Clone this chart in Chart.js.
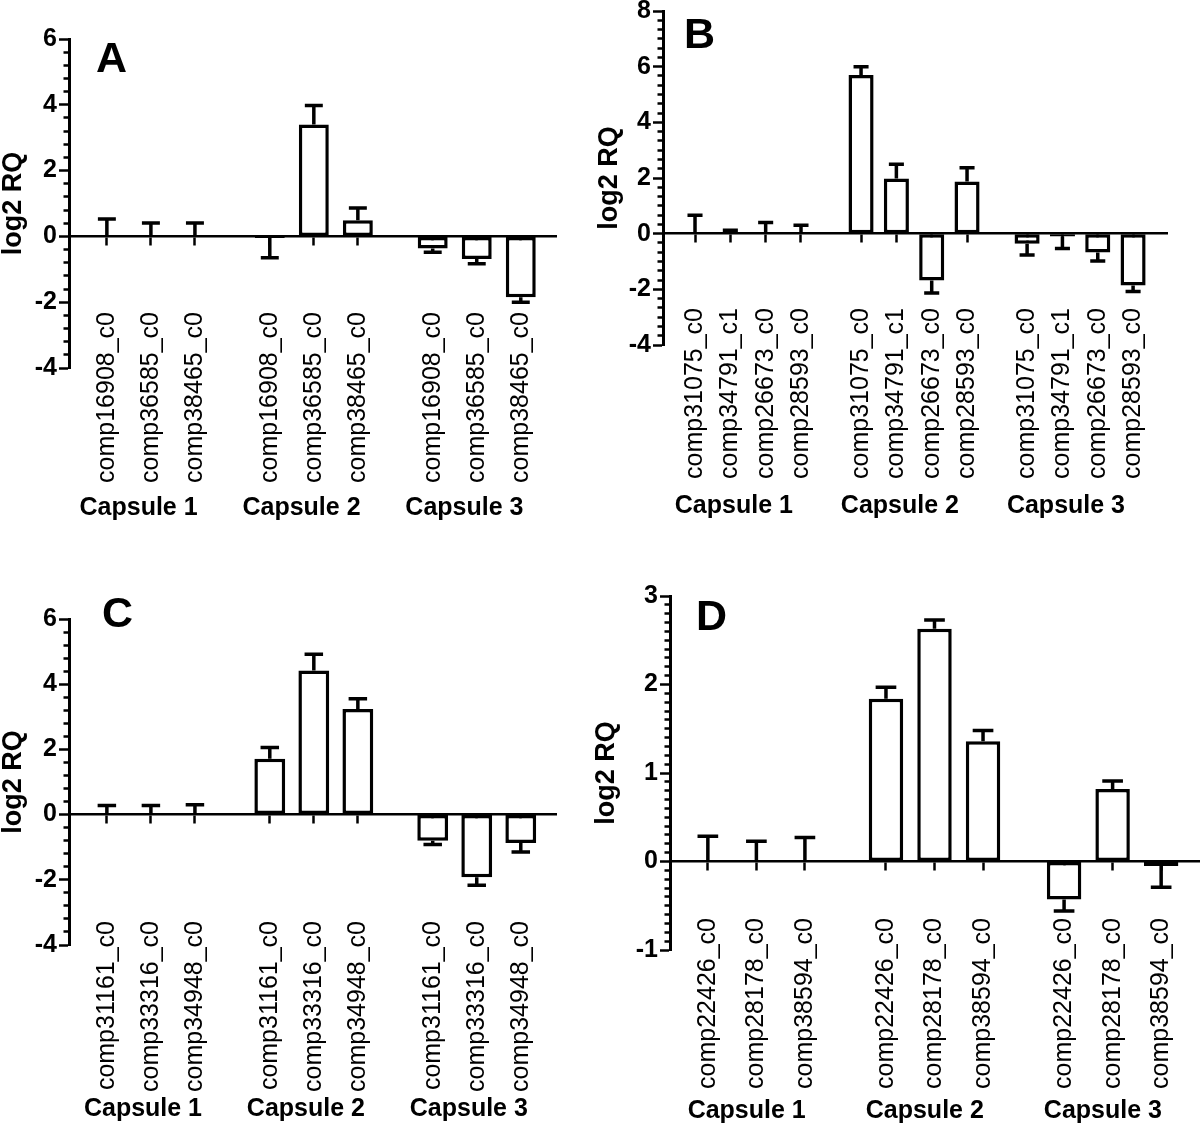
<!DOCTYPE html>
<html>
<head>
<meta charset="utf-8">
<script src="https://cdn.jsdelivr.net/npm/chart.js@4.4.1/dist/chart.umd.min.js"></script>
<style>
  html, body { margin: 0; padding: 0; background: #fff; }
  body { position: relative; width: 1200px; height: 1141px; overflow: hidden; }
  .panel { position: absolute; }
  .panel canvas { display: block; }
  .letter { position: absolute; font: bold 43px/1 'Liberation Sans', Arial, sans-serif; color: #000; }
</style>
</head>
<body>
<div class="panel" id="boxA"><canvas id="chartA"></canvas></div>
<div class="panel" id="boxB"><canvas id="chartB"></canvas></div>
<div class="panel" id="boxC"><canvas id="chartC"></canvas></div>
<div class="panel" id="boxD"><canvas id="chartD"></canvas></div>
<div class="letter" style="left:96px;top:36px">A</div>
<div class="letter" style="left:684px;top:12px">B</div>
<div class="letter" style="left:102px;top:591px">C</div>
<div class="letter" style="left:696px;top:594px">D</div>
<script>
// groups shared by all four panels
const groups = ['Capsule 1', 'Capsule 2', 'Capsule 3'];

// panel A
const genesA = ['comp16908_c0', 'comp36585_c0', 'comp38465_c0'];
const valuesA = [0, 0, 0, -0.05, 3.4, 0.49, -0.37, -0.69, -1.85];
const errorsA = [0.53, 0.41, 0.41, 0.6, 0.58, 0.37, 0.11, 0.14, 0.15];
const yTicksA = [-4, -2, 0, 2, 4, 6];

// panel B
const genesB = ['comp31075_c0', 'comp34791_c1', 'comp26673_c0', 'comp28593_c0'];
const valuesB = [0, 0.05, 0, 0, 5.7, 1.98, -1.68, 1.87, -0.36, -0.1, -0.68, -1.86];
const errorsB = [0.66, 0.07, 0.4, 0.3, 0.3, 0.51, 0.45, 0.5, 0.41, 0.43, 0.3, 0.22];
const yTicksB = [-4, -2, 0, 2, 4, 6, 8];

// panel C
const genesC = ['comp31161_c0', 'comp33316_c0', 'comp34948_c0'];
const valuesC = [0, 0, 0, 1.71, 4.42, 3.24, -0.8, -1.92, -0.87];
const errorsC = [0.28, 0.28, 0.3, 0.35, 0.5, 0.31, 0.12, 0.25, 0.28];
const yTicksC = [-4, -2, 0, 2, 4, 6];

// panel D
const genesD = ['comp22426_c0', 'comp28178_c0', 'comp38594_c0'];
const valuesD = [0, 0, 0, 1.84, 2.63, 1.36, -0.43, 0.82, -0.05];
const errorsD = [0.285, 0.23, 0.27, 0.13, 0.1, 0.12, 0.13, 0.09, 0.24];
const yTicksD = [-1, 0, 1, 2, 3];

Chart.defaults.font.family = "'Liberation Sans', Arial, sans-serif";
Chart.defaults.color = '#000';

// SEM bars, drawn away from zero
const errorBars = {
  id: 'errorBars',
  afterDatasetsDraw(chart, args, opts) {
    const {ctx} = chart;
    const yScale = chart.scales.y;
    const ds = chart.data.datasets[0];
    const meta = chart.getDatasetMeta(0);
    ctx.save();
    ctx.strokeStyle = '#000';
    ctx.lineWidth = opts.width;
    meta.data.forEach((bar, i) => {
      const {x, y, width} = bar.getProps(['x', 'y', 'width'], true);
      const v = ds.data[i].y;
      const dir = v < 0 ? -1 : 1;
      const yEnd = yScale.getPixelForValue(v + dir * ds.errors[i]);
      const half = width * opts.cap / 2;
      ctx.beginPath();
      ctx.moveTo(x, y);
      ctx.lineTo(x, yEnd);
      ctx.moveTo(x - half, yEnd);
      ctx.lineTo(x + half, yEnd);
      ctx.stroke();
    });
    ctx.restore();
  }
};

// axes hung inside the plot must not take room from it
const noRoom = s => {
  s.height = 0;
  s.paddingLeft = 0;
  s.paddingRight = 0;
  s.paddingTop = 0;
  s.paddingBottom = 0;
};

const drawPanel = (id, genes, values, errors, yTicks, cfg) => {
  const n = genes.length;
  const stride = n - 1 + cfg.gap;
  const pos = [];
  groups.forEach((g, gi) => genes.forEach((_, i) => pos.push(gi * stride + i)));
  const names = groups.flatMap(() => genes);
  const centers = groups.map((_, gi) => gi * stride + (n - 1) / 2 + cfg.groupShift);

  const [bl, bt, bw, bh] = cfg.box;
  const [al, at, ar, ab] = cfg.area;
  const box = document.getElementById('box' + id);
  box.style.left = bl + 'px';
  box.style.top = bt + 'px';
  const canvas = document.getElementById('chart' + id);
  canvas.width = bw;
  canvas.height = bh;

  const xMin = -cfg.lm;
  const xMax = pos[pos.length - 1] + cfg.rm;
  const yMin = yTicks[0];
  const yMax = yTicks[yTicks.length - 1];
  const minor = (yTicks[1] - yTicks[0]) / (cfg.minor + 1);
  const isMajor = v => yTicks.some(t => Math.abs(t - v) < 1e-6);
  const flat = {display: false, drawTicks: false};

  new Chart(canvas, {
    type: 'bar',
    data: {
      datasets: [{
        data: pos.map((x, i) => ({x, y: values[i]})),
        errors,
        backgroundColor: '#fff',
        borderColor: '#000',
        borderWidth: 3.5,
        borderSkipped: false,
        categoryPercentage: 1,
        barPercentage: cfg.barPct,
        xAxisID: 'x',
        yAxisID: 'y'
      }]
    },
    options: {
      responsive: false,
      animation: false,
      devicePixelRatio: 1,
      layout: {
        padding: {left: 0, top: at - bt, right: bl + bw - ar, bottom: bt + bh - ab}
      },
      plugins: {
        legend: {display: false},
        tooltip: {enabled: false},
        errorBars: {cap: 0.6, width: 3.5}
      },
      scales: {
        x: {
          type: 'linear', min: xMin, max: xMax, offset: false,
          position: {y: 0}, z: 1,
          afterBuildTicks: s => { s.ticks = pos.map(v => ({value: v})); },
          afterFit: noRoom,
          ticks: {display: false, autoSkip: false},
          grid: {display: true, drawOnChartArea: false, offset: false, tickLength: 8, tickWidth: 2.5, tickColor: '#000'},
          border: {display: true, width: 2.5, color: '#000'}
        },
        y: {
          type: 'linear', min: yMin, max: yMax, position: 'left',
          afterBuildTicks: s => {
            const steps = Math.round((yMax - yMin) / minor);
            const t = [];
            for (let k = 0; k <= steps; k++) t.push({value: +(yMin + k * minor).toFixed(6)});
            s.ticks = t;
          },
          afterFit: s => { s.width = al - bl; },
          ticks: {
            autoSkip: false, padding: 2,
            font: {size: 25, weight: 'bold'},
            callback: v => isMajor(v) ? String(Math.round(v)) : ''
          },
          grid: {
            drawOnChartArea: false, offset: false, tickLength: 10, tickWidth: 2.5, tickColor: '#000',
            tickBorderDash: c => (c.tick && isMajor(c.tick.value)) ? [] : [0, 4.5, 20]
          },
          border: {width: 3, color: '#000'},
          title: {
            display: true, text: 'log2 RQ',
            font: {size: 27, weight: 'bold', lineHeight: 1},
            padding: {top: cfg.titlePad, bottom: 0}
          }
        },
        // gene names, hung from the bottom of the y range
        xl: {
          type: 'linear', min: xMin, max: xMax, offset: false, position: {y: yMin},
          afterBuildTicks: s => { s.ticks = pos.map(v => ({value: v})); },
          afterFit: noRoom,
          ticks: {
            autoSkip: false, minRotation: 90, maxRotation: 90,
            padding: cfg.labelTop - ab,
            font: {size: 25},
            callback: (v, i) => names[i]
          },
          grid: flat,
          border: {display: false}
        },
        // capsule group names
        xg: {
          type: 'linear', min: xMin, max: xMax, offset: false, position: {y: yMin},
          afterBuildTicks: s => { s.ticks = centers.map(v => ({value: v})); },
          afterFit: noRoom,
          ticks: {
            autoSkip: false, minRotation: 0, maxRotation: 0,
            padding: cfg.groupTop - ab,
            font: {size: 25, weight: 'bold'},
            callback: (v, i) => groups[i]
          },
          grid: flat,
          border: {display: false}
        }
      }
    },
    plugins: [errorBars]
  });
};

drawPanel('A', genesA, valuesA, errorsA, yTicksA, {
  box: [0, 0, 585, 560], area: [69, 39, 556, 368],
  gap: 1.7, lm: 0.86, rm: 0.8, barPct: 0.68, minor: 4,
  labelTop: 312, groupTop: 493, groupShift: -0.28, titlePad: 0
});
drawPanel('B', genesB, valuesB, errorsB, yTicksB, {
  box: [590, -20, 610, 580], area: [663, 11, 1167, 345],
  gap: 1.7, lm: 0.906, rm: 0.96, barPct: 0.71, minor: 5,
  labelTop: 308, groupTop: 491, groupShift: -0.4, titlePad: 6
});
drawPanel('C', genesC, valuesC, errorsC, yTicksC, {
  box: [0, 575, 585, 566], area: [69, 619, 556, 945],
  gap: 1.7, lm: 0.86, rm: 0.8, barPct: 0.7, minor: 4,
  labelTop: 921, groupTop: 1094, groupShift: -0.18, titlePad: 0
});
drawPanel('D', genesD, valuesD, errorsD, yTicksD, {
  box: [590, 575, 610, 566], area: [670, 596, 1199, 950],
  gap: 1.67, lm: 0.78, rm: 0.78, barPct: 0.71, minor: 9,
  labelTop: 918, groupTop: 1096, groupShift: -0.2, titlePad: 3.5
});
</script>
</body>
</html>
